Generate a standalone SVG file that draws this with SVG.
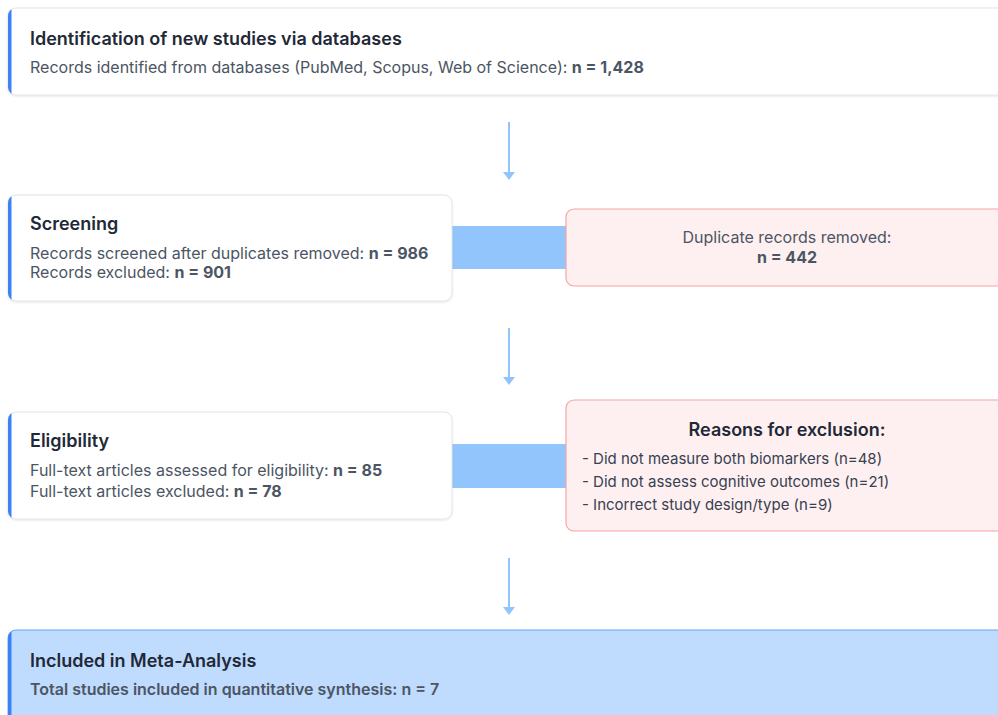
<svg xmlns="http://www.w3.org/2000/svg" width="998" height="715" viewBox="0 0 998 715">
<style>
text{font-family:Inter,"Noto Sans","Liberation Sans",sans-serif}
.t{font-size:18px;font-weight:600;fill:#1f2937}
.b{font-size:16px;fill:#4b5563}
.s{font-size:15px;fill:#374151}
.bb{font-weight:700}
.card{fill:#ffffff;stroke:#e2e4e8;stroke-width:1}
.red{fill:#fef0f0;stroke:#f5a3a3;stroke-width:1.2}
.band{fill:#93c5fd}
.ln{stroke:#93c5fd;stroke-width:2}
.hd{fill:#93c5fd}
</style>
<defs>
<filter id="sh" x="-5%" y="-10%" width="110%" height="130%">
<feDropShadow dx="0" dy="1" stdDeviation="1.2" flood-color="#000" flood-opacity="0.10"/>
</filter>
<clipPath id="c1"><rect x="8" y="8" width="1000" height="87" rx="8"/></clipPath>
<clipPath id="c2"><rect x="8" y="195" width="444" height="106" rx="8"/></clipPath>
<clipPath id="c3"><rect x="8" y="412" width="444" height="107" rx="8"/></clipPath>
<clipPath id="c4"><rect x="8" y="630" width="1000" height="100" rx="8"/></clipPath>
</defs>
<g id="connectors">
<line class="ln" x1="509" y1="122" x2="509" y2="172"/>
<path class="hd" d="M503,172 L515,172 L509,180 Z"/>
<line class="ln" x1="509" y1="328" x2="509" y2="377"/>
<path class="hd" d="M503,377 L515,377 L509,385 Z"/>
<line class="ln" x1="509" y1="558" x2="509" y2="607"/>
<path class="hd" d="M503,607 L515,607 L509,615 Z"/>
<rect class="band" x="452" y="226" width="115" height="43"/>
<rect class="band" x="452" y="444" width="115" height="44"/>
</g>
<g id="identification">
<rect class="card" x="8" y="8" width="1000" height="87" rx="8" filter="url(#sh)"/>
<rect x="8" y="8" width="3.5" height="87" fill="#3b82f6" clip-path="url(#c1)"/>
<text class="t" x="30" y="45">Identification of new studies via databases</text>
<text class="b" x="30" y="73">Records identified from databases (PubMed, Scopus, Web of Science): <tspan class="bb">n = 1,428</tspan></text>
</g>
<g id="screening">
<rect class="card" x="8" y="195" width="444" height="106" rx="8" filter="url(#sh)"/>
<rect x="8" y="195" width="3.5" height="106" fill="#3b82f6" clip-path="url(#c2)"/>
<text class="t" x="30" y="230">Screening</text>
<text class="b" x="30" y="259">Records screened after duplicates removed: <tspan class="bb">n = 986</tspan></text>
<text class="b" x="30" y="278">Records excluded: <tspan class="bb">n = 901</tspan></text>
</g>
<g id="duplicates">
<rect class="red" x="566" y="209" width="445" height="77" rx="8"/>
<text class="b" x="787" y="243" text-anchor="middle">Duplicate records removed:</text>
<text class="b bb" x="787" y="263" text-anchor="middle">n = 442</text>
</g>
<g id="eligibility">
<rect class="card" x="8" y="412" width="444" height="107" rx="8" filter="url(#sh)"/>
<rect x="8" y="412" width="3.5" height="107" fill="#3b82f6" clip-path="url(#c3)"/>
<text class="t" x="30" y="447">Eligibility</text>
<text class="b" x="30" y="476">Full-text articles assessed for eligibility: <tspan class="bb">n = 85</tspan></text>
<text class="b" x="30" y="497">Full-text articles excluded: <tspan class="bb">n = 78</tspan></text>
</g>
<g id="reasons">
<rect class="red" x="566" y="400" width="445" height="131" rx="8"/>
<text class="t" x="787" y="436" text-anchor="middle">Reasons for exclusion:</text>
<text class="s" x="582" y="464">- Did not measure both biomarkers (n=48)</text>
<text class="s" x="582" y="487">- Did not assess cognitive outcomes (n=21)</text>
<text class="s" x="582" y="510">- Incorrect study design/type (n=9)</text>
</g>
<g id="included">
<rect x="8" y="630" width="1000" height="100" rx="8" fill="#bfdbfe" stroke="#60a5fa" stroke-width="1"/>
<rect x="8" y="630" width="3.5" height="100" fill="#3b82f6" clip-path="url(#c4)"/>
<text class="t" x="30" y="667">Included in Meta-Analysis</text>
<text class="b" x="30" y="695" font-weight="600">Total studies included in quantitative synthesis: n = 7</text>
</g>
</svg>
